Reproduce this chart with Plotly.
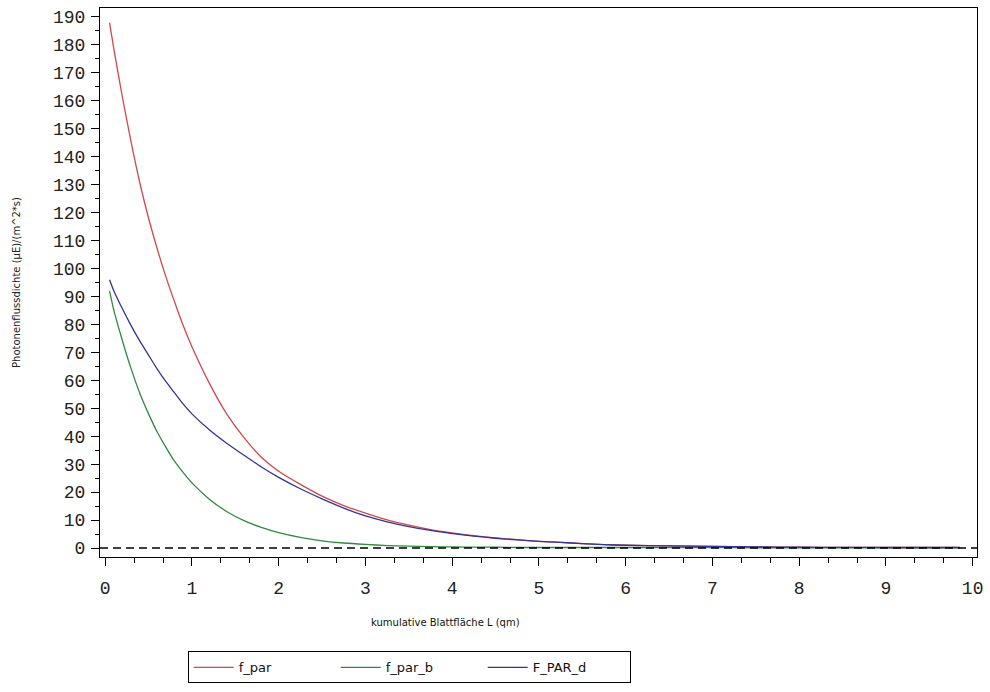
import plotly.graph_objects as go

L = [0.05, 0.1, 0.2, 0.3, 0.4, 0.5, 0.6, 0.7, 0.8, 0.9, 1.0, 1.2, 1.4, 1.6, 1.8, 2.0,
     2.25, 2.5, 2.75, 3.0, 3.25, 3.5, 3.75, 4.0, 4.25, 4.5, 4.75, 5.0, 5.25, 5.5,
     5.75, 6.0, 6.5, 7.0, 7.5, 8.0, 8.5, 9.0, 9.5, 9.85]

f_par = [188, 178.5, 161, 145, 130.5, 118, 107, 97, 88, 79.5, 72, 59, 48, 39.5, 32.5, 27.5,
         22.8, 18.6, 15.2, 12.5, 10.1, 8.2, 6.6, 5.4, 4.4, 3.6, 3.0, 2.4, 2.0, 1.6,
         1.2, 1.0, 0.8, 0.6, 0.4, 0.3, 0.25, 0.2, 0.2, 0.2]

f_par_b = [92, 85, 74, 64, 55.3, 48, 41.5, 36, 31, 27, 23.3, 17.5, 13.1, 9.8, 7.4, 5.5,
           3.8, 2.6, 1.8, 1.3, 0.9, 0.7, 0.5, 0.4, 0.3, 0.3, 0.2, 0.2, 0.2, 0.2,
           0.2, 0.2, 0.2, 0.2, 0.1, 0.1, 0.1, 0.1, 0.1, 0.1]

F_PAR_d = [96, 92, 85.5, 79.5, 74, 69, 64, 59.5, 55.5, 51.5, 48, 42.3, 37.5, 33.2, 29, 25.3,
           21.2, 17.6, 14.3, 11.5, 9.4, 7.7, 6.3, 5.2, 4.3, 3.5, 2.9, 2.4, 2.0, 1.6,
           1.2, 1.0, 0.8, 0.6, 0.4, 0.3, 0.25, 0.2, 0.2, 0.2]

x_ticks = list(range(0, 11))
y_ticks = list(range(0, 191, 10))

fig = go.Figure()
series = [("f_par", f_par, "#d04848"), ("f_par_b", f_par_b, "#2e8b3e"), ("F_PAR_d", F_PAR_d, "#333399")]
for name, vals, col in series:
    fig.add_trace(go.Scatter(x=L, y=vals, mode="lines", name=name,
                             line=dict(color=col, width=1.3, shape="spline", smoothing=0.6)))

fig.add_shape(type="line", xref="paper", x0=0, x1=1, yref="y", y0=0, y1=0,
              line=dict(color="black", width=1.5, dash="8px,5px"))

tickfont = dict(family="Liberation Mono", size=18, color="#222")
fig.update_layout(
    width=990, height=692,
    margin=dict(l=100, r=13, t=8, b=135),
    plot_bgcolor="white", paper_bgcolor="white",
    showlegend=True,
    legend=dict(orientation="h", x=0.1, xanchor="left", y=-0.172, yanchor="top",
                bordercolor="black", borderwidth=1, entrywidth=92, entrywidthmode="pixels",
                font=dict(family="DejaVu Sans", size=13, color="#111"),
                tracegroupgap=0, itemwidth=40),
    xaxis=dict(range=[-0.06, 10.05], tickvals=x_ticks, ticks="outside", ticklen=8,
               tickcolor="black", showline=True, linecolor="black", linewidth=1.2, mirror=True,
               showgrid=False, zeroline=False, tickfont=tickfont, ticklabelstandoff=6,
               minor=dict(dtick=1/3, tick0=0, ticks="outside", ticklen=5, tickcolor="black")),
    yaxis=dict(range=[-3.2, 193.2], tickvals=y_ticks, ticks="outside", ticklen=8,
               tickcolor="black", showline=True, linecolor="black", linewidth=1.2, mirror=True,
               showgrid=False, zeroline=False, tickfont=tickfont, ticklabelstandoff=2,
               title=dict(text="Photonenflussdichte (µE)/(m^2*s)",
                          font=dict(family="DejaVu Sans", size=10, color="#222"), standoff=30),
               minor=dict(dtick=5, ticks="outside", ticklen=4, tickcolor="black")),
)

fig.add_annotation(text="kumulative Blattfläche L (qm)", xref="paper", yref="paper",
                   x=(445 - 100) / 877, y=-(622 - 557) / 549, xanchor="center", yanchor="middle",
                   showarrow=False, font=dict(family="DejaVu Sans", size=10, color="#111"))

fig.write_html("out.html")
